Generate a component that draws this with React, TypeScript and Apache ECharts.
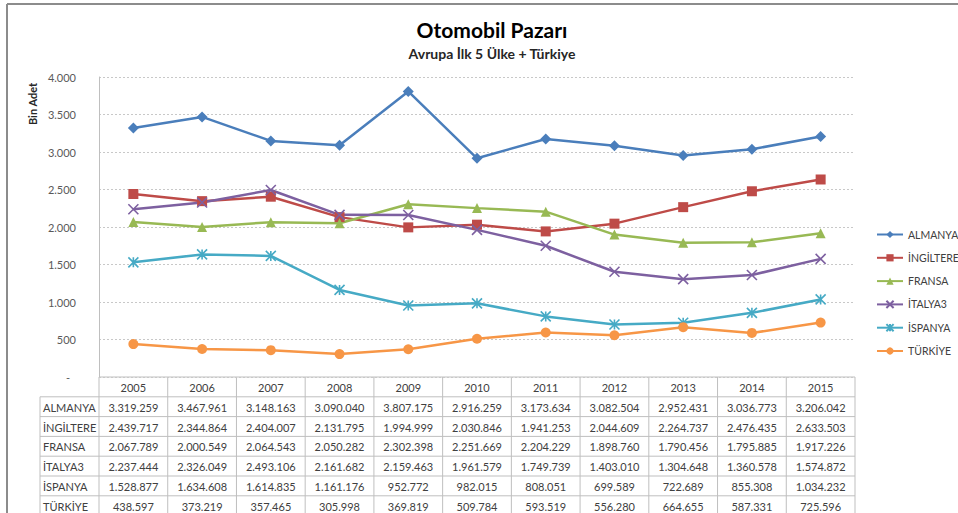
import React, { useEffect, useRef } from "react";
import * as echarts from "echarts";

const years = ["2005", "2006", "2007", "2008", "2009", "2010", "2011", "2012", "2013", "2014", "2015"];
const countries = ["ALMANYA", "İNGİLTERE", "FRANSA", "İTALYA3", "İSPANYA", "TÜRKİYE"];
const almanya = [3319259, 3467961, 3148163, 3090040, 3807175, 2916259, 3173634, 3082504, 2952431, 3036773, 3206042];
const ingiltere = [2439717, 2344864, 2404007, 2131795, 1994999, 2030846, 1941253, 2044609, 2264737, 2476435, 2633503];
const fransa = [2067789, 2000549, 2064543, 2050282, 2302398, 2251669, 2204229, 1898760, 1790456, 1795885, 1917226];
const italya = [2237444, 2326049, 2493106, 2161682, 2159463, 1961579, 1749739, 1403010, 1304648, 1360578, 1574872];
const ispanya = [1528877, 1634608, 1614835, 1161176, 952772, 982015, 808051, 699589, 722689, 855308, 1034232];
const turkiye = [438597, 373219, 357465, 305998, 369819, 509784, 593519, 556280, 664655, 587331, 725596];
const seriesValues = [almanya, ingiltere, fransa, italya, ispanya, turkiye];

const colors = ["#4A7EBB", "#BE4B48", "#98B954", "#7D60A0", "#46AAC5", "#F79646"];
const symbols = [
  "diamond",
  "rect",
  "triangle",
  "path://M0,0 L10,10 M10,0 L0,10",
  "path://M5,0 L5,10 M0,0 L10,10 M10,0 L0,10",
  "circle",
];
const symbolSizes = [11, 10, 10, 10, 10, 10];

const FONT = "Lato, 'Open Sans', sans-serif";
const W = 958;
const H = 513;
const GL = 99;
const GR = 855;
const GT = 77;
const GB = 377;
const ROW = 19.8;
const LABEL_X = 40;

const fmt = (n: number) => String(Math.round(n)).replace(/\B(?=(\d{3})+(?!\d))/g, ".");

export default function App() {
  const ref = useRef<HTMLDivElement>(null);
  useEffect(() => {
    if (!ref.current) return;
    const chart = echarts.init(ref.current, undefined, { renderer: "svg" });
    const colW = (GR - GL) / years.length;
    const lineStyle = { stroke: "#BFBFBF", lineWidth: 1 };
    const graphics: any[] = [];
    graphics.push({ type: "line", shape: { x1: 7, y1: 4, x2: W, y2: 4 }, style: { stroke: "#8C8C8C", lineWidth: 2 } });
    graphics.push({ type: "line", shape: { x1: 7, y1: 4, x2: 7, y2: H }, style: { stroke: "#8C8C8C", lineWidth: 2 } });
    graphics.push({
      type: "text",
      x: 32,
      y: 104,
      rotation: Math.PI / 2,
      style: { text: "Bin Adet", font: `bold 11px ${FONT}`, fill: "#262626", align: "center", verticalAlign: "middle" },
    });
    for (let k = 0; k <= countries.length + 1; k++) {
      const y = GB + k * ROW;
      graphics.push({
        type: "line",
        shape: { x1: k === 0 ? GL : LABEL_X, y1: y, x2: GR, y2: y },
        style: lineStyle,
      });
    }
    for (let i = 0; i <= years.length; i++) {
      const x = GL + i * colW;
      graphics.push({ type: "line", shape: { x1: x, y1: GB, x2: x, y2: H }, style: lineStyle });
    }
    graphics.push({ type: "line", shape: { x1: LABEL_X, y1: GB + ROW, x2: LABEL_X, y2: H }, style: lineStyle });
    years.forEach((yr, i) => {
      graphics.push({
        type: "text",
        x: GL + (i + 0.5) * colW,
        y: GB + ROW / 2 + 0.5,
        style: { text: yr, font: `11px ${FONT}`, fill: "#404040", align: "center", verticalAlign: "middle" },
      });
    });
    countries.forEach((c, r) => {
      const yc = GB + (r + 1.5) * ROW + 0.5;
      graphics.push({
        type: "text",
        x: LABEL_X + 3,
        y: yc,
        style: { text: c, font: `11px ${FONT}`, fill: "#404040", align: "left", verticalAlign: "middle" },
      });
      seriesValues[r].forEach((v, i) => {
        graphics.push({
          type: "text",
          x: GL + (i + 0.5) * colW,
          y: yc,
          style: { text: fmt(v), font: `11px ${FONT}`, fill: "#404040", align: "center", verticalAlign: "middle" },
        });
      });
    });

    chart.setOption({
      animation: false,
      backgroundColor: "#FFFFFF",
      title: [
        {
          text: "Otomobil Pazarı",
          left: 487,
          top: 14,
          textAlign: "center",
          textStyle: { fontFamily: FONT, fontSize: 21, fontWeight: "bold", color: "#000000" },
        },
        {
          text: "Avrupa İlk 5 Ülke + Türkiye",
          left: 487,
          top: 41,
          textAlign: "center",
          textStyle: { fontFamily: FONT, fontSize: 14, fontWeight: "bold", color: "#262626" },
        },
      ],
      legend: {
        orient: "vertical",
        left: 871,
        top: 224,
        itemWidth: 26,
        itemHeight: 9,
        itemGap: 12.3,
        data: countries,
        textStyle: { fontFamily: FONT, fontSize: 10.5, color: "#404040" },
      },
      grid: { left: GL, right: W - GR, top: GT, bottom: H - GB },
      xAxis: {
        type: "category",
        data: years,
        boundaryGap: true,
        axisLine: { show: false },
        axisTick: { show: false },
        axisLabel: { show: false },
      },
      yAxis: {
        type: "value",
        min: 0,
        max: 4000,
        interval: 500,
        axisLine: { show: true, lineStyle: { color: "#BFBFBF" } },
        axisTick: { show: false },
        splitLine: { lineStyle: { color: "#C8C8C8", type: [2, 2] } },
        axisLabel: {
          margin: 23,
          fontFamily: FONT,
          fontSize: 11,
          color: "#595959",
          formatter: (v: number) => (v === 0 ? "{d|-}" : fmt(v)),
          rich: { d: { fontFamily: FONT, fontSize: 11, color: "#595959", padding: [0, 6, 0, 0] } },
        },
      },
      series: countries.map((c, idx) => ({
        name: c,
        type: "line",
        data: seriesValues[idx].map((v) => v / 1000),
        symbol: symbols[idx],
        symbolSize: symbolSizes[idx],
        showAllSymbol: true,
        lineStyle: { color: colors[idx], width: 2.5 },
        itemStyle: {
          color: colors[idx],
          borderColor: colors[idx],
          borderWidth: idx === 3 || idx === 4 ? 1.6 : 0,
        },
        z: 2,
      })),
      graphic: graphics,
    });
    return () => chart.dispose();
  }, []);
  return (
    <div
      ref={ref}
      style={{ position: "fixed", left: 0, top: 0, width: W, height: H, background: "#fff" }}
    />
  );
}
